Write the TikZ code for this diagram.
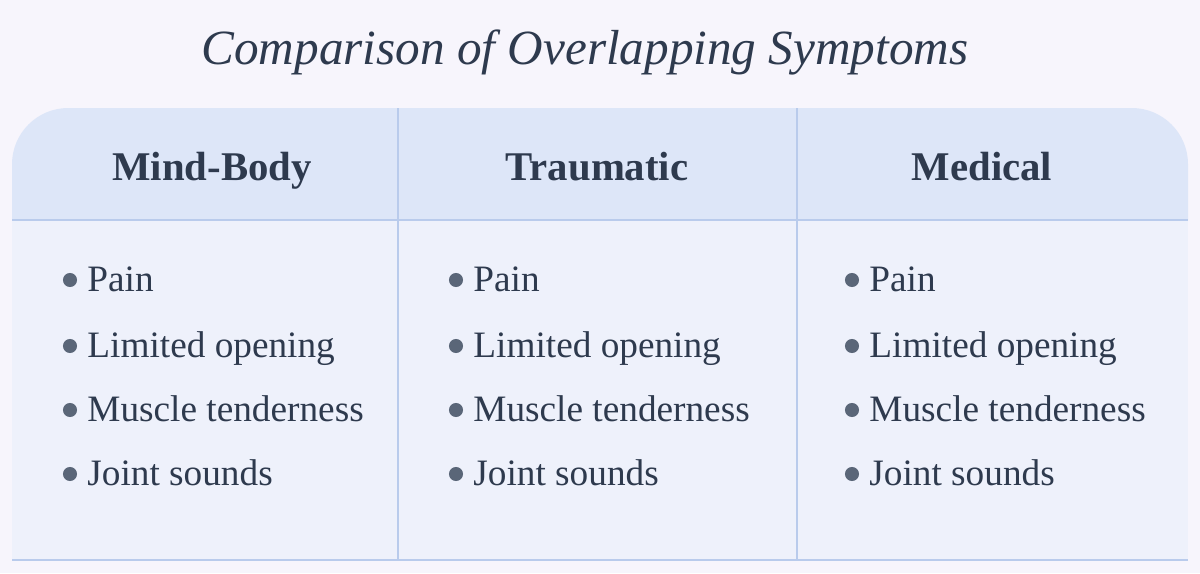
\documentclass[tikz,border=0pt]{standalone}
\usepackage{fontspec}
\setmainfont{Liberation Serif}
\usetikzlibrary{positioning}
\definecolor{bgcol}{HTML}{F7F5FC}
\definecolor{headcol}{HTML}{DDE6F8}
\definecolor{bodycol}{HTML}{EEF1FB}
\definecolor{rulecol}{HTML}{B9CBEC}
\definecolor{inkcol}{HTML}{2E3A4E}
\definecolor{dotcol}{HTML}{5A6678}

\begin{document}
\begin{tikzpicture}[
    x=0.025cm, y=-0.025cm,
    head/.style={font=\fontsize{29}{32}\selectfont\bfseries, text=inkcol, text height=0.7em, text depth=0.22em, yshift=-7pt},
    item/.style={font=\fontsize{26.5}{30}\selectfont, text=inkcol, anchor=west, inner sep=0, text height=0.68em, text depth=0.22em, yshift=-6pt},
    dot/.style={circle, fill=dotcol, minimum size=10, inner sep=0},
  ]
  \useasboundingbox[fill=bgcol] (0,0) rectangle (1200,573);

  % table
  \fill[bodycol] (12,220) rectangle (1188,560);
  \fill[headcol] (12,220) [rounded corners=40] -- (12,108) -- (1188,108) [sharp corners] -- (1188,220) -- cycle;
  \draw[rulecol, thick] (12,220) -- (1188,220);
  \draw[rulecol, thick] (12,560) -- (1188,560);
  \foreach \x in {398,797} \draw[rulecol, thick] (\x,108) -- (\x,560);

  \node[font=\fontsize{35}{40}\selectfont\itshape, text=inkcol] (title) at (585,52) {Comparison of Overlapping Symptoms};

  \node[head] (hmind) at (212,167) {Mind-Body};
  \node[head] (htrauma) at (597,167) {Traumatic};
  \node[head] (hmed) at (982,167) {Medical};

  \foreach \c/\x in {mind/70, trauma/456, med/852} {
    \foreach \t/\y [count=\i] in {Pain/280, Limited opening/346, Muscle tenderness/410, Joint sounds/474} {
      \node[dot] (d\c\i) at (\x,\y) {};
      \node[item, right=7pt of d\c\i] (t\c\i) {\t};
    }
  }
\end{tikzpicture}
\end{document}
